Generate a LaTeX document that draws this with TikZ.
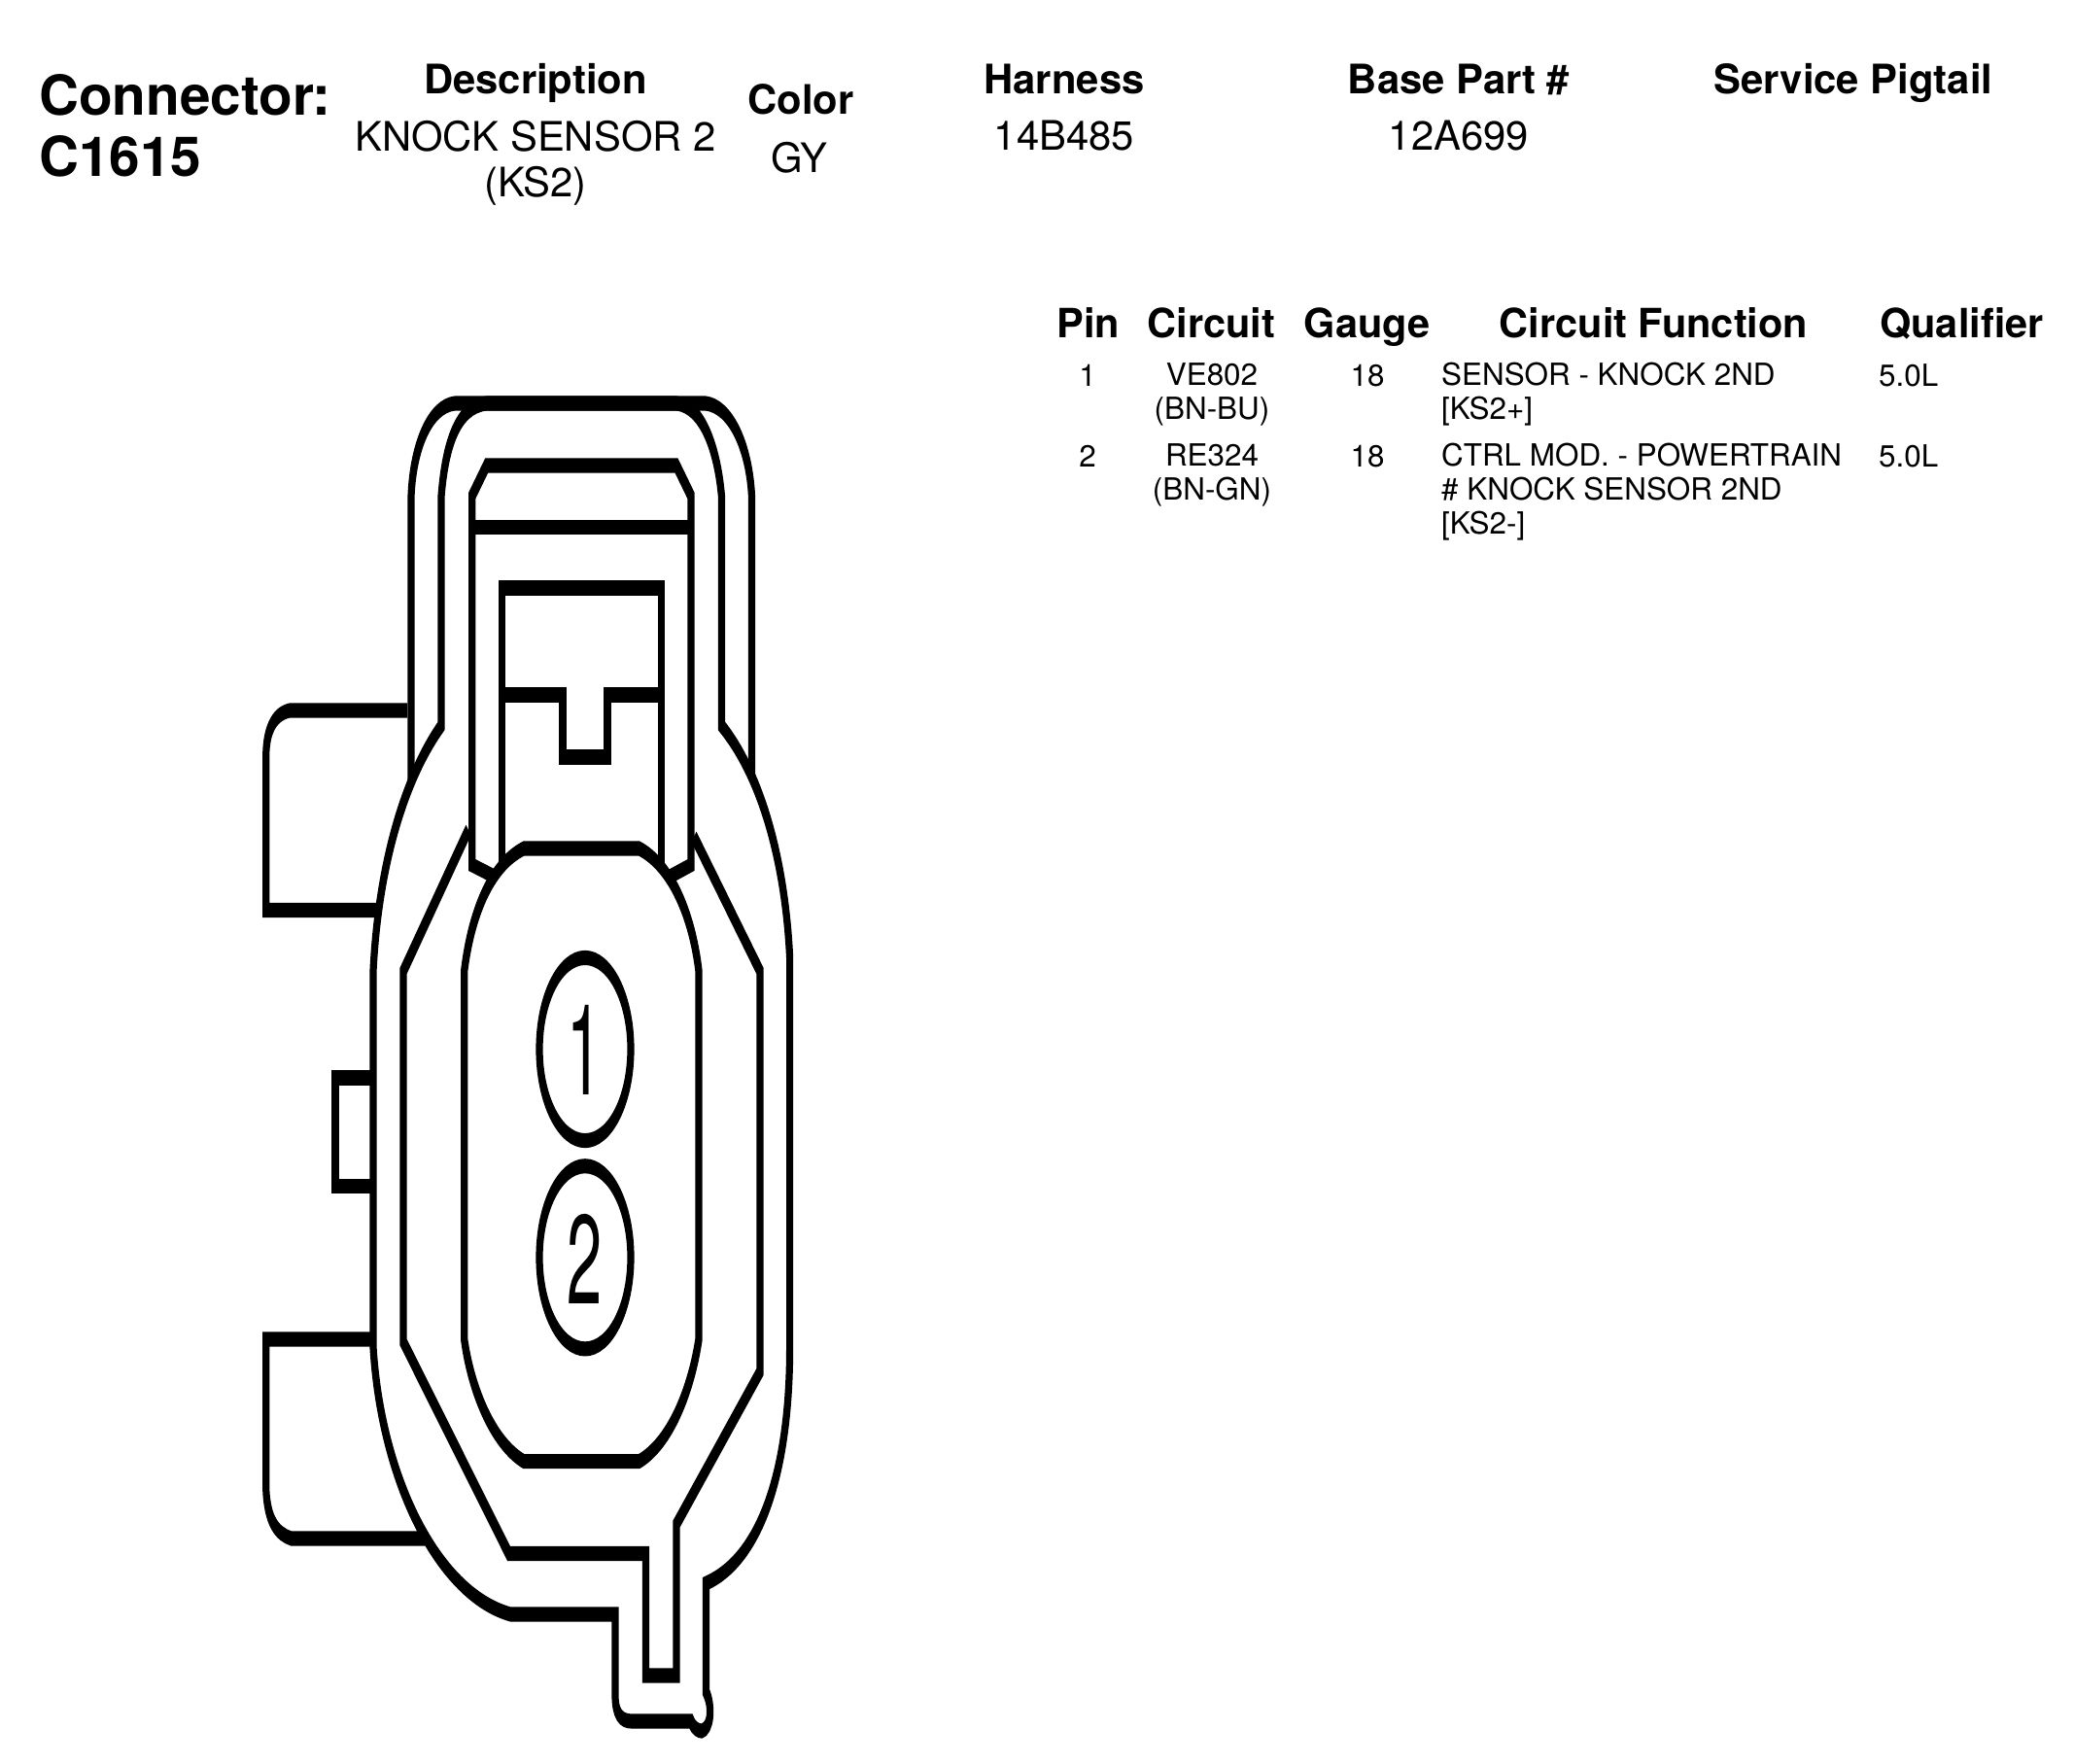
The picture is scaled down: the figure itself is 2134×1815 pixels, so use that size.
\documentclass[tikz,border=0pt]{standalone}
\usepackage{fontspec}
\setmainfont{TeX Gyre Heros}
\tikzset{
  title/.style={anchor=base west,inner sep=0pt,font=\fontsize{56.7}{56.7}\selectfont\bfseries},
  hdr/.style={anchor=base,inner sep=0pt,font=\fontsize{41.8}{41.8}\selectfont\bfseries},
  val/.style={anchor=base,inner sep=0pt,align=center,font=\fontsize{41.8}{47}\selectfont},
  thead/.style={anchor=base,inner sep=0pt,font=\fontsize{41.5}{41.5}\selectfont\bfseries},
  cellc/.style={anchor=base,inner sep=0pt,align=center,font=\fontsize{31.4}{35}\selectfont},
  celll/.style={anchor=base west,inner sep=0pt,align=left,font=\fontsize{31.4}{35}\selectfont},
  pinnum/.style={anchor=base,inner sep=0pt,xscale=0.5,transform shape,font=\fontsize{130}{130}\selectfont},
  part/.style={draw=black,line width=7.2pt,line join=miter,miter limit=4}
}
\begin{document}
\begin{tikzpicture}[x=1pt,y=-1pt]
\useasboundingbox (0,0) rectangle (2134,1815);
\fill[white] (0,0) rectangle (2134,1815);

% header
\node[title] (conn) at (40,118) {Connector:};
\node[title] (cnum) at (40,181) {C1615};
\node[hdr] (hdesc) at (551,96) {Description};
\node[val] (vdesc) at (551,202) {KNOCK SENSOR 2\\(KS2)};
\node[hdr] (hcol) at (824,117) {Color};
\node[val] (vcol) at (822,177) {GY};
\node[hdr] (hhar) at (1095,96) {Harness};
\node[val] (vhar) at (1095,154) {14B485};
\node[hdr] (hbase) at (1501,96) {Base Part \#};
\node[val] (vbase) at (1501,154) {12A699};
\node[hdr] (hpig) at (1907,96) {Service Pigtail};

% table
\node[thead] (tpin) at (1120,347) {Pin};
\node[thead] (tcir) at (1246.5,347) {Circuit};
\node[thead] (tgau) at (1406.5,347) {Gauge};
\node[thead] (tfun) at (1701.5,347) {Circuit Function};
\node[thead] (tqua) at (2018.5,347) {Qualifier};

\node[cellc] (p1) at (1119,397) {1};
\node[cellc] (c1) at (1247,431) {VE802\\(BN-BU)};
\node[cellc] (g1) at (1407,397) {18};
\node[celll] (f1) at (1483,431) {SENSOR - KNOCK 2ND\\{}[KS2+]};
\node[celll] (q1) at (1933,397) {5.0L};
\node[cellc] (p2) at (1119,480) {2};
\node[cellc] (c2) at (1247,514) {RE324\\(BN-GN)};
\node[cellc] (g2) at (1407,480) {18};
\node[celll] (f2) at (1483,549) {CTRL MOD. - POWERTRAIN\\\# KNOCK SENSOR 2ND\\{}[KS2-]};
\node[celll] (q2) at (1933,480) {5.0L};

% connector drawing, thin verticals and thick horizontals
\begin{scope}[transform canvas={yscale=2.1},x=1pt,y=-0.47619pt]
  % tabs
  \draw[part] (419,731) -- (298,731) .. controls (280,735) and (273.7,755) .. (273.7,779)
     -- (273.7,936.5) -- (390,936.5);
  \draw[part] (382,1109) -- (345,1109) -- (345,1220.7) -- (382,1220.7);
  \draw[part] (382,1378) -- (273.7,1378) -- (273.7,1531.5)
     .. controls (275,1565) and (285,1578) .. (299.7,1583) -- (437.5,1583);
  % outer sleeve
  \draw[part] (423,806) -- (423,511) .. controls (425,460) and (442,418) .. (468,415)
     -- (726,415) .. controls (752,418) and (771,460) .. (773.5,511) -- (773.5,798);
  % body with inner sleeve
  \draw[part] (501,415) -- (696,415)
     .. controls (722,418) and (738,460) .. (742.5,511)
     -- (742.5,747) .. controls (785,800) and (808,890) .. (812.6,985)
     -- (812.6,1386) .. controls (812.6,1520) and (780,1605) .. (726.5,1629)
     -- (726.5,1741) .. controls (733,1755) and (732,1778) .. (722,1781)
     .. controls (719,1781) and (714,1779) .. (711,1771)
     -- (650,1771) .. controls (638,1771) and (633,1762) .. (633,1744)
     -- (633,1661) -- (525.5,1661) .. controls (450,1640) and (392,1520) .. (384,1386)
     -- (384,999) .. controls (390,880) and (420,795) .. (454,747)
     -- (454,511) .. controls (458,460) and (470,418) .. cycle;
  % second ring
  \draw[part] (482,854) -- (415,999) -- (415,1381) -- (523.6,1598.5) -- (664.5,1598.5)
     -- (664.5,1724) -- (696,1724) -- (696,1568) -- (782,1411.5) -- (782,999) -- (714,861);
  % slide
  \draw[part] (510,902.5) -- (485.7,890) -- (485.7,510) -- (500.7,479) -- (696,479)
     -- (711,510) -- (711,890) -- (688,902.5);
  \draw[part] (485.7,542.5) -- (711,542.5);
  % latch
  \draw[part] (516.7,890) -- (516.7,605) -- (680.5,605) -- (680.5,890);
  \draw[part] (516.7,715) -- (579,715) -- (579,779) -- (625,779) -- (625,715) -- (680.5,715);
  % inner contour
  \draw[part] (539,873) -- (657.6,873) .. controls (690,890) and (712,940) .. (719,999)
     -- (719,1378) .. controls (712,1425) and (692,1483) .. (657.6,1503.6)
     -- (539,1503.6) .. controls (505,1483) and (484,1425) .. (477.7,1378)
     -- (477.7,999) .. controls (485,940) and (505,890) .. cycle;
  % pin circles
  \draw[part] (602,1079.5) ellipse [x radius=47pt, y radius=44.8pt];
  \draw[part] (602,1293.8) ellipse [x radius=47pt, y radius=44.8pt];
\end{scope}
\node[pinnum] (n1) at (602,1126) {1};
\node[pinnum] (n2) at (602,1341) {2};
\end{tikzpicture}
\end{document}
